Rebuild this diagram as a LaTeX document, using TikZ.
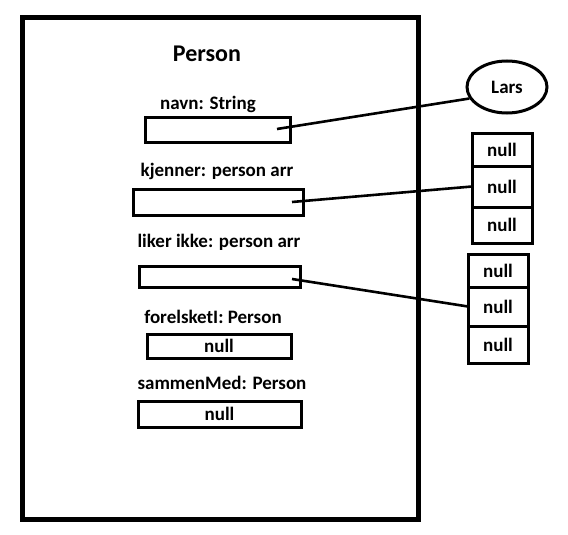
\documentclass[tikz,border=0pt]{standalone}
\usepackage{fontspec}
\setmainfont{Carlito}
\usetikzlibrary{positioning, shapes.geometric}

\begin{document}
\begin{tikzpicture}[
            x=1pt, y=-1pt,
            lbl/.style={inner sep=0pt, font=\bfseries\fontsize{19}{21}\selectfont},
            field/.style={rectangle, draw, line width=3pt, inner sep=0pt, outer sep=0pt, font=\bfseries\fontsize{19}{21}\selectfont},
            cell/.style={field, minimum width=60pt},
            obj/.style={ellipse, draw, line width=3pt, minimum width=80pt, minimum height=52pt, font=\bfseries\fontsize{19}{21}\selectfont},
            ref/.style={line width=2.6pt}
        ]
            \useasboundingbox (0,0) rectangle (568,535);

            % --- Person object ---
            \node[draw, line width=5pt, minimum width=396pt, minimum height=501pt] (person) at (220,268.5) {};
            \node[inner sep=0pt, font=\bfseries\fontsize{24}{26}\selectfont] (title) at (207,54) {Person};

            \node[lbl] (navnlbl) at (208,104) {navn: String};
            \node[field, minimum width=145pt, minimum height=25pt] (navn) at (217.5,129.5) {};
            \node[lbl] (kjennerlbl) at (217,171) {kjenner: person arr};
            \node[field, minimum width=170pt, minimum height=26pt] (kjenner) at (218,202) {};
            \node[lbl] (likerlbl) at (219,242) {liker ikke: person arr};
            \node[field, minimum width=161pt, minimum height=21pt] (liker) at (219.5,276.5) {};
            \node[lbl] (forelsketlbl) at (213,317) {forelsketI: Person};
            \node[field, minimum width=144pt, minimum height=24pt] (forelsket) at (219,346) {null};
            \node[lbl] (sammenlbl) at (222,383) {sammenMed: Person};
            \node[field, minimum width=163pt, minimum height=26pt] (sammen) at (219.5,414) {null};

            % --- Referenced objects ---
            \node[obj] (lars) at (507,87) {Lars};

            \node[cell, minimum height=33pt] (kja) at (502,149.5) {null};
            \node[cell, minimum height=41pt, below=0pt of kja] (kjb) {null};
            \node[cell, minimum height=36pt, below=0pt of kjb] (kjc) {null};

            \node[cell, minimum height=33pt] (lia) at (498,270.5) {null};
            \node[cell, minimum height=39pt, below=0pt of lia] (lib) {null};
            \node[cell, minimum height=37pt, below=0pt of lib] (lic) {null};

            % --- References ---
            \coordinate (navnptr) at (277,129);
            \coordinate (kjennerptr) at (292,202);
            \coordinate (likerptr) at (292,279);

            \draw[ref] (navnptr) -- (lars.197);
            \draw[ref] (kjennerptr) -- (kjb.west);
            \draw[ref] (likerptr) -- (lib.west);

        \end{tikzpicture}
\end{document}
